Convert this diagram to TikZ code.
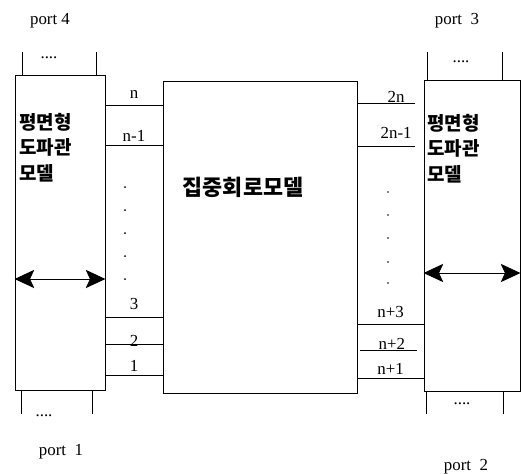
\documentclass[tikz,border=0pt]{standalone}
\usepackage{fontspec}
\setmainfont{Liberation Serif}
\newfontfamily\kor{Noto Sans CJK KR}
\usetikzlibrary{arrows.meta}

\begin{document}
\begin{tikzpicture}[x=0.025cm, y=-0.025cm,
    wg/.style={draw, line width=0.6pt, inner sep=0pt, minimum width=#1},
    lumped/.style={draw, line width=0.6pt, inner sep=0pt},
    wire/.style={line width=0.6pt},
    lead/.style={line width=0.7pt},
    lbl/.style={font=\fontsize{12}{14}\selectfont, inner sep=1pt},
    prt/.style={font=\fontsize{12}{14}\selectfont, anchor=base},
    kr/.style={font=\kor\bfseries\fontsize{13.5}{18}\selectfont, align=left, anchor=north west, inner sep=0pt},
    dbl/.style={{Stealth[length=14pt,width=13pt,inset=3pt]}-{Stealth[length=14pt,width=13pt,inset=3pt]}, line width=0.6pt}
]
    \useasboundingbox (0,0) rectangle (521,474);

    % Blocks
    \node[wg=2.25cm, minimum height=7.875cm] (lwg) at (60,233) {};
    \node[lumped, minimum width=4.85cm, minimum height=7.8cm] (lump) at (260,237) {};
    \node[wg=2.4cm, minimum height=7.775cm] (rwg) at (472,235.5) {};

    % Block texts
    \node[kr] (ltxt) at (19,113) {평면형\\도파관\\모델};
    \node[kr] (rtxt) at (427,114) {평면형\\도파관\\모델};
    \node[font=\kor\bfseries\fontsize{15.5}{18}\selectfont] (ltitle) at (243,187) {집중회로모델};

    % Port leads (top and bottom)
    \draw[lead] (lwg.north -| 22,0) -- ++(0,-23);
    \draw[lead] (lwg.north -| 96,0) -- ++(0,-23);
    \draw[lead] (lwg.south -| 21,0) -- ++(0,23);
    \draw[lead] (lwg.south -| 92,0) -- ++(0,23);
    \draw[lead] (rwg.north -| 427,0) -- ++(0,-28);
    \draw[lead] (rwg.north -| 502,0) -- ++(0,-28);
    \draw[lead] (rwg.south -| 426,0) -- ++(0,23);
    \draw[lead] (rwg.south -| 503,0) -- ++(0,23);
    \node[lbl] (d4) at (49,58) {....};
    \node[lbl] (d1) at (44,416) {....};
    \node[lbl] (d3) at (461,62) {....};
    \node[lbl] (d2) at (462,404) {....};

    % Port names
    \node[prt] (p4) at (50,24) {port 4};
    \node[prt] (p3) at (457,24) {port\ \ 3};
    \node[prt] (p1) at (61,455) {port\ \ 1};
    \node[prt] (p2) at (466,470) {port\ \ 2};

    % Left wires
    \draw[wire] (lwg.east |- 0,105) -- node[lbl, above=3pt] {n} (lump.west |- 0,105);
    \draw[wire] (lwg.east |- 0,145) -- node[lbl, above=1pt] {n-1} (lump.west |- 0,145);
    \draw[wire] (lwg.east |- 0,317) -- node[lbl, above=4pt] {3} (lump.west |- 0,317);
    \draw[wire] (lwg.east |- 0,344) -- node[lbl, above=-3pt] {2} (lump.west |- 0,344);
    \draw[wire] (lwg.east |- 0,375) -- node[lbl, above=1pt] {1} (lump.west |- 0,375);

    % Right wires
    \draw[wire, shorten >=6] (lump.east |- 0,103) -- node[lbl, above=-1pt, xshift=4pt] {2n} (rwg.west |- 0,103);
    \draw[wire, shorten >=6] (lump.east |- 0,146) -- node[lbl, above=4pt, xshift=4pt] {2n-1} (rwg.west |- 0,146);
    \draw[wire] (lump.east |- 0,324) -- node[lbl, above=3pt] {n+3} (rwg.west |- 0,324);
    \draw[wire, shorten <=2, shorten >=5] (lump.east |- 0,350) -- node[lbl, above=-1pt, xshift=1pt] {n+2} (rwg.west |- 0,350);
    \draw[wire] (lump.east |- 0,378) -- node[lbl, above=1pt] {n+1} (rwg.west |- 0,378);

    % Dots
    \foreach \y in {187,210,233,256,279} \fill (125,\y) circle (1);
    \foreach \y in {192,215,238,262,283} \fill (388,\y) circle (0.9);

    % Arrows inside waveguides
    \draw[dbl] (lwg.west |- 0,279) -- (lwg.east |- 0,279);
    \draw[dbl] (rwg.west |- 0,273) -- (rwg.east |- 0,273);
\end{tikzpicture}
\end{document}
